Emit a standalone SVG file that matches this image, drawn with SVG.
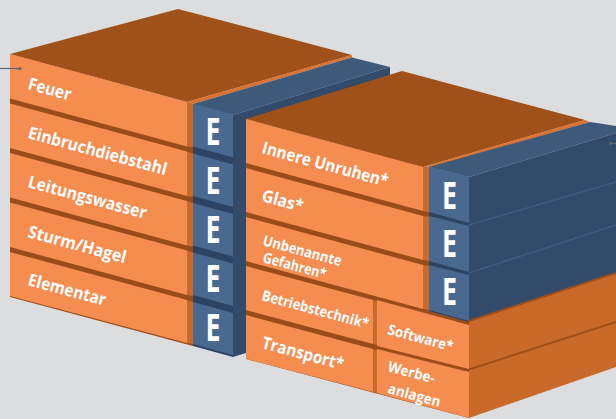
<svg xmlns="http://www.w3.org/2000/svg" width="616" height="419" viewBox="0 0 616 419">
<defs>
<style>
.bg{fill:#dcdddf}
.front{fill:#f58c50}
.side{fill:#c9692a}
.top{fill:#a0511a}
.gap{fill:#9a4c18}
.edge{fill:#dc7230}
.efront{fill:#4a6990}
.eside{fill:#324b6a}
.etop{fill:#3d5a7b}
.egap{fill:#2c4363}
.sep{stroke:#3f5d81;stroke-width:1.6;fill:none}
.osep{stroke:#9e4f1a;stroke-width:2;fill:none}
.lbl{font-family:"Open Sans","Liberation Sans",sans-serif;font-weight:700;fill:#ffffff;font-size:17px}
.sm{font-size:14.5px}
.e{font-family:"Open Sans","Liberation Sans",sans-serif;font-weight:700;fill:#ffffff;font-size:37px}
.lead{stroke:#5f6670;stroke-width:1.2;fill:none}
</style>
</defs>
<rect class="bg" x="0" y="0" width="616" height="419"/>

<!-- left stack structure -->
<g id="left-stack">
<polygon class="top" points="10,54 178,9 352,55 187,102"/>
<polygon class="edge" points="187,102 352,55 352,57.5 193,104"/>
<polygon class="gap" points="10,54 193,104 193,346 10,297"/>
<polygon class="egap" points="193,104 233,115 233,357 193,346"/>
<polygon class="etop" points="193,104 352,57.5 390,67 233,115"/>
<polygon class="eside" points="233,115 390,67 390,76 246,120 246,353 233,357"/>
</g>

<!-- right stack structure -->
<g id="right-stack">
<polygon class="top" points="246,119 402,71 585,120 423,167"/>
<polygon class="edge" points="423,167 585,120 590,122 429,168"/>
<polygon class="gap" points="246,119 469,179 469,418 246,359"/>
<polygon class="egap" points="429,167 469,177 469,322 429,311"/>
<polygon class="etop" points="429,167 590,122 616,126 616,133 469,177"/>
<polygon class="eside" points="469,177 616,133 616,273 469,321"/>
<line class="sep" x1="469" y1="225" x2="616" y2="182"/>
<line class="sep" x1="469" y1="273" x2="616" y2="225"/>
<polygon class="side" points="469,321 616,273 616,367 469,418"/>
<line class="osep" x1="469" y1="321" x2="616" y2="273"/>
<line class="osep" x1="469" y1="369.5" x2="616" y2="322"/>
</g>

<!-- left rows -->
<g id="feuer">
<polygon class="front" points="10,54 187,102 187,146.5 10,98.5"/>
<polygon class="side" points="187,102 193,104 193,147.5 187,146.5"/>
<text class="lbl" x="27" y="89" transform="rotate(15.1 27 89)" textLength="44" lengthAdjust="spacingAndGlyphs">Feuer</text>
</g>
<g id="e-feuer">
<polygon class="efront" points="193,104 233,115 233,157.5 193,146.5"/>
<text class="e" x="205.5" y="145" textLength="15" lengthAdjust="spacingAndGlyphs">E</text>
</g>
<g id="einbruchdiebstahl">
<polygon class="front" points="10,103.5 187,151.5 187,196 10,148"/>
<polygon class="side" points="187,151.5 193,153.5 193,197 187,196"/>
<text class="lbl" x="27" y="138" transform="rotate(15.1 27 138)" textLength="143" lengthAdjust="spacingAndGlyphs">Einbruchdiebstahl</text>
</g>
<g id="e-einbruch">
<polygon class="efront" points="193,153.5 233,164.5 233,207 193,196"/>
<text class="e" x="205.5" y="194" textLength="15" lengthAdjust="spacingAndGlyphs">E</text>
</g>
<g id="leitungswasser">
<polygon class="front" points="10,153 187,201 187,245.5 10,197.5"/>
<polygon class="side" points="187,201 193,203 193,246.5 187,245.5"/>
<text class="lbl" x="27" y="187" transform="rotate(15.1 27 187)" textLength="122" lengthAdjust="spacingAndGlyphs">Leitungswasser</text>
</g>
<g id="e-leitung">
<polygon class="efront" points="193,203 233,214 233,256.5 193,245.5"/>
<text class="e" x="205.5" y="243" textLength="15" lengthAdjust="spacingAndGlyphs">E</text>
</g>
<g id="sturm-hagel">
<polygon class="front" points="10,202.5 187,250.5 187,295 10,247"/>
<polygon class="side" points="187,250.5 193,252.5 193,296 187,295"/>
<text class="lbl" x="27" y="237" transform="rotate(15.1 27 237)" textLength="101" lengthAdjust="spacingAndGlyphs">Sturm/Hagel</text>
</g>
<g id="e-sturm">
<polygon class="efront" points="193,252.5 233,263.5 233,306 193,295"/>
<text class="e" x="205.5" y="292" textLength="15" lengthAdjust="spacingAndGlyphs">E</text>
</g>
<g id="elementar">
<polygon class="front" points="10,252 187,300 187,343 10,296"/>
<polygon class="side" points="187,300 193,302 193,344 187,343"/>
<text class="lbl" x="27" y="285" transform="rotate(15.1 27 285)" textLength="80" lengthAdjust="spacingAndGlyphs">Elementar</text>
</g>
<g id="e-elementar">
<polygon class="efront" points="193,302 233,313 233,355 193,344"/>
<text class="e" x="205.5" y="341" textLength="15" lengthAdjust="spacingAndGlyphs">E</text>
</g>

<!-- right rows -->
<g id="innere-unruhen">
<polygon class="front" points="246,119 423,167 423,211 246,163"/>
<polygon class="side" points="423,167 429,168 429,212 423,211"/>
<text class="lbl" x="261" y="153" transform="rotate(15.1 261 153)" textLength="130" lengthAdjust="spacingAndGlyphs">Innere Unruhen*</text>
</g>
<g id="e-innere">
<polygon class="efront" points="429,167 469,177 469,223 429,212"/>
<text class="e" x="442" y="209" textLength="15" lengthAdjust="spacingAndGlyphs">E</text>
</g>
<g id="glas">
<polygon class="front" points="246,168 423,216 423,260 246,212"/>
<polygon class="side" points="423,216 429,217 429,261 423,260"/>
<text class="lbl" x="261" y="201" transform="rotate(15.1 261 201)" textLength="42" lengthAdjust="spacingAndGlyphs">Glas*</text>
</g>
<g id="e-glas">
<polygon class="efront" points="429,216 469,226 469,272 429,261"/>
<text class="e" x="442" y="257" textLength="15" lengthAdjust="spacingAndGlyphs">E</text>
</g>
<g id="unbenannte-gefahren">
<polygon class="front" points="246,217 423,265 423,309 246,261"/>
<polygon class="side" points="423,265 429,266 429,310 423,309"/>
<text class="lbl sm" x="262" y="245" transform="rotate(15.1 262 245)" textLength="81" lengthAdjust="spacingAndGlyphs">Unbenannte</text>
<text class="lbl sm" x="262" y="262" transform="rotate(15.1 262 262)" textLength="65" lengthAdjust="spacingAndGlyphs">Gefahren*</text>
</g>
<g id="e-unbenannte">
<polygon class="efront" points="429,265 469,275 469,321 429,310"/>
<text class="e" x="442" y="305" textLength="15" lengthAdjust="spacingAndGlyphs">E</text>
</g>
<g id="betriebstechnik">
<polygon class="front" points="246,266 373,300 373,344 246,310"/>
<polygon class="side" points="373,300 377,301 377,345 373,344"/>
<text class="lbl sm" x="261" y="300" transform="rotate(15.1 261 300)" textLength="110" lengthAdjust="spacingAndGlyphs">Betriebstechnik*</text>
</g>
<g id="transport">
<polygon class="front" points="246,315 373,349 373,392 246,359"/>
<polygon class="side" points="373,349 377,350 377,393 373,392"/>
<text class="lbl" x="261" y="348" transform="rotate(15.1 261 348)" textLength="84" lengthAdjust="spacingAndGlyphs">Transport*</text>
</g>
<g id="software">
<polygon class="front" points="377,300 469,325 469,369 377,346"/>
<text class="lbl sm" x="387" y="334" transform="rotate(15.1 387 334)" textLength="67" lengthAdjust="spacingAndGlyphs">Software*</text>
</g>
<g id="werbeanlagen">
<polygon class="front" points="377,349 469,372 469,418 377,393"/>
<text class="lbl sm" x="387" y="371" transform="rotate(15.1 387 371)" textLength="48" lengthAdjust="spacingAndGlyphs">Werbe-</text>
<text class="lbl sm" x="387" y="393" transform="rotate(15.1 387 393)" textLength="54" lengthAdjust="spacingAndGlyphs">anlagen</text>
</g>

<g id="connectors">
<line class="lead" x1="0" y1="68.5" x2="20" y2="68.5"/>
<circle cx="20" cy="68.5" r="1.6" fill="#5f6670"/>
<line class="lead" x1="610" y1="143.5" x2="616" y2="143.5"/>
<circle cx="610.5" cy="143.5" r="1.4" fill="#5f6670"/>
</g>
</svg>
